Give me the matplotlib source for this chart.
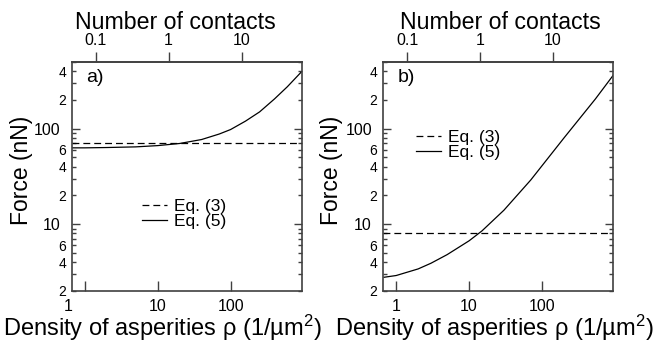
import matplotlib
matplotlib.use('Agg')
import numpy as np
import matplotlib.pyplot as plt
from matplotlib.ticker import FixedLocator, NullLocator, FuncFormatter
from matplotlib.transforms import ScaledTranslation

plt.rcParams['font.family'] = ['Liberation Sans', 'DejaVu Sans']
plt.rcParams['mathtext.fontset'] = 'custom'
plt.rcParams['mathtext.rm'] = 'Liberation Sans'
plt.rcParams['mathtext.it'] = 'Liberation Sans'

# 数据
contact_area = 0.0707           # 每个接触面积 µm^2, 密度 -> 接触数
x_range = (0.66, 940)
y_range = (2, 500)

rho_a = [0.66, 1, 2, 5, 10, 20, 40, 70, 100, 160, 250, 400, 600, 940]
f5_a = [63, 63, 63.5, 64.5, 66.5, 70, 77, 88, 98, 120, 150, 205, 275, 395]
f3_a = 70

rho_b = [0.68, 1, 2, 3, 5, 10, 15, 30, 70, 200, 540, 940]
f5_b = [2.78, 2.9, 3.4, 3.9, 4.8, 6.7, 8.5, 14, 29, 80, 205, 360]
f3_b = 8.1

# 标签, x, y, 水平线, 左边位置, 图例位置, x 标签中心, 顶部标签中心, y 标签位置
panels = [
    ('a)', rho_a, f5_a, f3_a, 0.109, (0.304, 0.335), 0.395, 0.453, -0.168),
    ('b)', rho_b, f5_b, f3_b, 0.583, (0.143, 0.636), 0.485, 0.509, -0.174),
]

spine_col = '#404040'
fig = plt.figure(figsize=(6.57, 3.48), dpi=100)


def fmt_major(v, p):
    return '%g' % v


def fmt_minor(v, p):
    m = int(round(v / 10 ** np.floor(np.log10(v) + 1e-9)))
    return str(m) if m in (2, 4, 6) else ''


axes = []
for tag, rho, f5, f3, left, leg_pos, xl_c, tl_c, yl_x in panels:
    ax = fig.add_axes([left, 0.164, 0.350, 0.658])
    axes.append(ax)
    ax.plot(x_range, [f3, f3], 'k--', lw=0.9, dashes=(5.5, 3.2), label='Eq. (3)')
    ax.plot(rho, f5, 'k-', lw=0.9, label='Eq. (5)')
    ax.set_xscale('log')
    ax.set_yscale('log')
    ax.set_xlim(*x_range)
    ax.set_ylim(*y_range)

    for s in ax.spines.values():
        s.set_color(spine_col)
        s.set_linewidth(1.2)

    # x 轴
    ax.xaxis.set_major_locator(FixedLocator([1, 10, 100]))
    ax.xaxis.set_minor_locator(NullLocator())
    ax.xaxis.set_major_formatter(FuncFormatter(fmt_major))
    ax.tick_params(axis='x', which='major', direction='in', length=7.2, width=1,
                   color=spine_col, top=False, labelsize=11.5, pad=6)

    # y 轴
    ax.yaxis.set_major_locator(FixedLocator([10, 100]))
    ax.yaxis.set_major_formatter(FuncFormatter(fmt_major))
    minors = [m * d for d in (1, 10, 100) for m in range(2, 10)]
    ax.yaxis.set_minor_locator(FixedLocator(minors))
    ax.yaxis.set_minor_formatter(FuncFormatter(fmt_minor))
    ax.tick_params(axis='y', which='major', direction='in', length=6, width=1,
                   color=spine_col, right=True, labelsize=11.5, pad=8)
    ax.tick_params(axis='y', which='minor', direction='in', length=3.2, width=1,
                   color=spine_col, right=True, labelsize=10, pad=4)

    ax.set_xlabel('Density of asperities ρ (1/µm$^2$)', fontsize=17)
    ax.xaxis.set_label_coords(xl_c, -0.096)
    ax.set_ylabel('Force (nN)', fontsize=16.5)
    ax.yaxis.set_label_coords(yl_x, 0.528)

    # 顶部：接触数
    top = ax.secondary_xaxis('top', functions=(lambda r: r * contact_area,
                                               lambda n: n / contact_area))
    top.xaxis.set_major_locator(FixedLocator([0.1, 1, 10]))
    top.xaxis.set_minor_locator(NullLocator())
    top.xaxis.set_major_formatter(FuncFormatter(fmt_major))
    top.tick_params(axis='x', direction='out', length=7.2, width=1,
                    color=spine_col, labelsize=11.5, pad=3)
    top.spines['top'].set_color(spine_col)
    top.spines['top'].set_linewidth(1.2)
    top.set_xlabel('Number of contacts', fontsize=16.7)
    top.xaxis.set_label_coords(tl_c, 1.144, transform=ax.transAxes)

    ax.text(0.062, 0.93, tag, transform=ax.transAxes, fontsize=14,
            ha='left', va='center')
    ax.legend(loc='center left', bbox_to_anchor=leg_pos, frameon=False,
              fontsize=12.5, handlelength=1.45, handletextpad=0.4,
              labelspacing=-0.02, borderpad=0, borderaxespad=0)

# 原图 a) 中 "1" 标签偏左
lab = axes[0].xaxis.get_major_ticks()[0].label1
lab.set_transform(lab.get_transform() + ScaledTranslation(-0.17, 0, fig.dpi_scale_trans))

plt.savefig('out.png', dpi=100)
